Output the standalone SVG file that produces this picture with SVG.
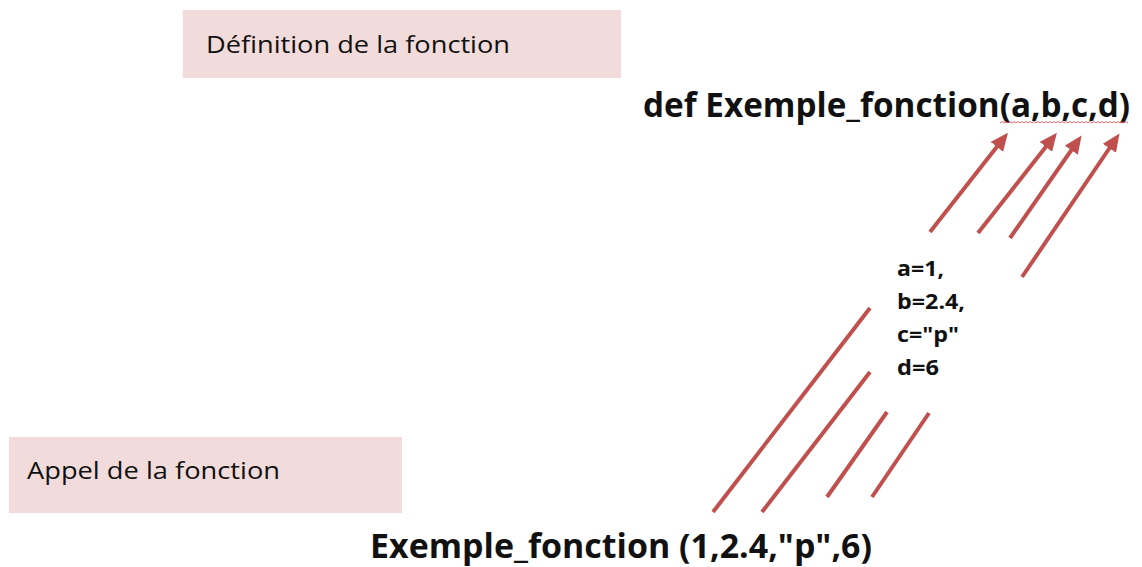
<svg xmlns="http://www.w3.org/2000/svg" width="1142" height="567" viewBox="0 0 1142 567">
  <style>
    .box { fill: #f2dcdb; }
    .lbl { font-family: "Open Sans", "Liberation Sans", sans-serif; font-size: 24px; fill: #111; }
    .code { font-family: "Open Sans", "Liberation Sans", sans-serif; font-size: 34px; font-weight: bold; fill: #111; }
    .vals { font-family: "Open Sans", "Liberation Sans", sans-serif; font-size: 21px; font-weight: bold; fill: #111; }
    .conn { stroke: #c0504d; stroke-width: 4; fill: none; }
  </style>
  <defs>
    <marker id="head" markerUnits="userSpaceOnUse" markerWidth="20" markerHeight="18" refX="10" refY="8" orient="auto">
      <path d="M0,0 L18,8 L0,16 z" fill="#c0504d"/>
    </marker>
  </defs>
  <rect width="1142" height="567" fill="#ffffff"/>

  <g id="def-label">
    <rect class="box" x="183" y="10" width="438" height="68"/>
    <text class="lbl" x="206" y="53" textLength="304" lengthAdjust="spacingAndGlyphs">Définition de la fonction</text>
  </g>

  <g id="call-label">
    <rect class="box" x="9" y="437" width="393" height="76"/>
    <text class="lbl" x="27" y="479" textLength="253" lengthAdjust="spacingAndGlyphs">Appel de la fonction</text>
  </g>

  <g id="def-code">
    <text class="code" x="643" y="117" textLength="487" lengthAdjust="spacingAndGlyphs">def Exemple_fonction(a,b,c,d)</text>
    <path d="M1000,123 l2,-1.5 l2,1.5 l2,-1.5 l2,1.5 l2,-1.5 l2,1.5 l2,-1.5 l2,1.5 l2,-1.5 l2,1.5 l2,-1.5 l2,1.5 l2,-1.5 l2,1.5 l2,-1.5 l2,1.5 l2,-1.5 l2,1.5 l2,-1.5 l2,1.5 l2,-1.5 l2,1.5 l2,-1.5 l2,1.5 l2,-1.5 l2,1.5 l2,-1.5 l2,1.5 l2,-1.5 l2,1.5 l2,-1.5 l2,1.5 l2,-1.5 l2,1.5 l2,-1.5 l2,1.5 l2,-1.5 l2,1.5 l2,-1.5 l2,1.5 l2,-1.5 l2,1.5 l2,-1.5 l2,1.5 l2,-1.5 l2,1.5 l2,-1.5 l2,1.5 l2,-1.5 l2,1.5 l2,-1.5 l2,1.5 l2,-1.5 l2,1.5 l2,-1.5 l2,1.5 l2,-1.5 l2,1.5 l2,-1.5 l2,1.5 l2,-1.5 l2,1.5 l2,-1.5 l2,1.5" fill="none" stroke="#e05a5a" stroke-width="0.9"/>
  </g>

  <g id="call-code">
    <text class="code" x="370" y="558" textLength="502" lengthAdjust="spacingAndGlyphs">Exemple_fonction (1,2.4,"p",6)</text>
  </g>

  <g id="values">
    <text class="vals" x="897" y="276" textLength="47" lengthAdjust="spacingAndGlyphs">a=1,</text>
    <text class="vals" x="897" y="309" textLength="68" lengthAdjust="spacingAndGlyphs">b=2.4,</text>
    <text class="vals" x="897" y="342" textLength="62" lengthAdjust="spacingAndGlyphs">c="p"</text>
    <text class="vals" x="897" y="375" textLength="42" lengthAdjust="spacingAndGlyphs">d=6</text>
  </g>

  <g id="connectors">
    <line class="conn" x1="713" y1="512" x2="870" y2="308"/>
    <line class="conn" x1="762" y1="512" x2="870" y2="372"/>
    <line class="conn" x1="827" y1="497" x2="887" y2="412"/>
    <line class="conn" x1="872" y1="497" x2="929" y2="413"/>
    <line class="conn" x1="930" y1="232" x2="1003" y2="139" marker-end="url(#head)"/>
    <line class="conn" x1="978" y1="233" x2="1052" y2="139" marker-end="url(#head)"/>
    <line class="conn" x1="1010" y1="238" x2="1077" y2="142" marker-end="url(#head)"/>
    <line class="conn" x1="1022" y1="277" x2="1115" y2="140" marker-end="url(#head)"/>
  </g>
</svg>
